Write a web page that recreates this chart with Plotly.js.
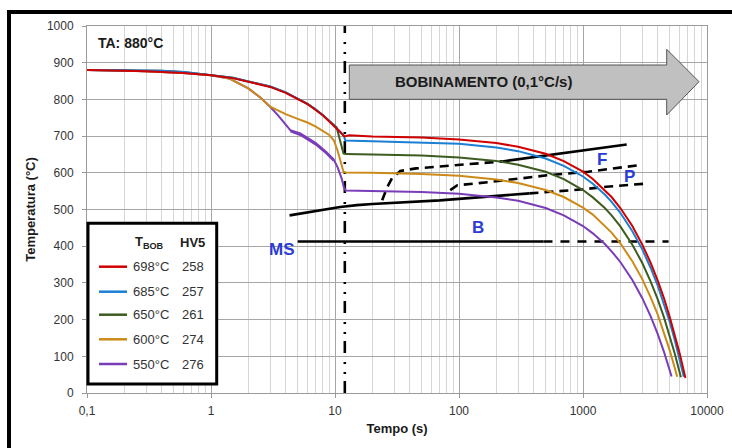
<!DOCTYPE html>
<html>
<head>
<meta charset="utf-8">
<script src="https://cdn.plot.ly/plotly-3.0.1.min.js"></script>
<style>html,body{margin:0;padding:0;background:#fff;}#chart{width:732px;height:448px;}</style>
</head>
<body>
<div id="chart"></div>
<script>
// ---- data ----
const seriesNames = ['698°C', '685°C', '650°C', '600°C', '550°C'];
const hv5 = [258, 257, 261, 274, 276];
const seriesColors = ['#d00000', '#1b7fd4', '#3d5c1f', '#cc8a18', '#7a3db8'];

const redT = [0.1,0.2,0.3,0.4,0.6,1,1.5,2,3,4,5,6,7,8,9,10,11,11.9,13,20,50,100,200,300,500,700,1000,1200,1500,1700,2000,2500,3000,3500,4000,4500,5000,5500,6000,6300,6700];
const redV = [880,879,877,875,872,866,858,848,834,818,802,787,771,756,740,726,711,699,702,699,696,691,681,671,652,632,603,583,553,534,504,455,405,356,307,258,208,159,110,80,41];

const blueT = [0.1,0.2,0.4,0.6,1,1.5,2,3,4,5,6,7,8,9,10,11,11.8,12.1,20,50,100,200,300,500,700,1000,1200,1500,1700,2000,2500,3000,3500,4000,4500,5000,5500,6000,6200,6500];
const blueV = [880,880,878,875,867,859,849,835,819,803,788,772,757,741,727,712,701,688,686,683,679,669,659,639,619,590,570,541,521,491,441,392,342,293,243,194,144,95,75,44];

const greenT = [0.1,0.2,0.4,0.6,1,1.5,2,3,4,5,6,7,8,9,10.3,11.7,12.2,20,50,100,200,300,500,700,1000,1200,1500,1700,2000,2500,3000,3500,4000,4500,5000,5500,6000,6150];
const greenV = [880,880,878,875,867,859,849,835,819,803,788,772,757,741,724,653,651,650,647,642,632,622,603,583,553,533,504,484,454,404,355,305,256,206,157,107,58,43];

const orangeT = [0.1,0.2,0.4,0.6,1,1.4,2,2.5,3,4,5,6,7,8,9,9.8,10.5,11.7,12.2,20,50,100,200,300,500,700,1000,1200,1500,1700,2000,2500,3000,3500,4000,4500,5000,5500,5750];
const orangeV = [880,879,875,872,866,857,830,805,780,760,747,737,726,714,703,688,660,603,601,600,597,592,582,572,553,534,505,486,456,437,408,359,311,262,214,165,117,68,44];

const purpleT = [0.1,0.2,0.4,0.6,1,1.4,2,2.5,3,3.5,4.36,5.25,6,7,7.6,8.5,9.75,10.5,11.3,11.8,12.2,20,50,100,200,300,500,700,1000,1200,1500,1700,2000,2500,3000,3500,4000,4500,5000,5180];
const purpleV = [880,879,875,872,866,857,830,805,780,755,716,707,695,681,671,657,637,615,585,560,552,551,548,543,533,524,504,484,455,435,406,386,357,308,259,210,161,112,63,45];
// second, slightly lower purple trace seen as a thickened line between 4.4 s and 10 s
const purple2T = [4.36,5.25,6,7,7.6,8.5,9.75];
const purple2V = [713,703,691,677,667,653,633];

// transformation lines
const fDashT = [24,26.3,28.8,33.6,45,90,170,224];
const fDashV = [525,560,585,605,612,621,628,631];
const fSolidT = [224,2250];
const fSolidV = [631,677];
const pDashT = [85,97,178,243,541,1100,2870];
const pDashV = [553,566,575,580,594,603,621];
const bSolidT = [4.3,6,8,11,15,20,70,200,370];
const bSolidV = [484,492,500,507,512,515,525,536,544];
const bDashT = [370,670,1000,1540,2100,3100];
const bDashV = [544,550,555,562,566,570];
const msSolidT = [5,480];
const msSolidV = [413,413];
const msDashT = [480,4900];
const msDashV = [413,413];
const coilStartT = [12,12];
const coilStartV = [0,1000];

const xTickVals = [0.1,1,10,100,1000,10000];
const xTickText = ['0,1','1','10','100','1000','10000'];

// ---- build ----
const L = 87, R = 25, T = 26, B = 55, W = 732, H = 448;
const pw = W - L - R, ph = H - T - B;
const px = v => (v - L) / pw;
const py = v => (H - B - v) / ph;
const lx = v => 1 + (v - 334.7) / 124.2;   // pixel -> log10(time) for data-anchored labels
const ty = v => (392.7 - v) / 0.3667;      // pixel -> temperature

const minorVals = [];
for (let e = -1; e < 4; e++) for (let d = 2; d <= 9; d++) minorVals.push(d * Math.pow(10, e));

const traces = [];
function line(x, y, color, width, dash) {
  traces.push({x: x, y: y, type: 'scatter', mode: 'lines', showlegend: false, hoverinfo: 'skip',
    line: {color: color, width: width, dash: dash || 'solid'}});
}
line(coilStartT, coilStartV, '#000', 2.6, '12px,7px,2px,8px,2px,9px');
line(bSolidT, bSolidV, '#000', 2.6);
line(bDashT, bDashV, '#000', 2.6, '9px,6px');
line(fDashT, fDashV, '#000', 2.6, '9px,6px');
line(fSolidT, fSolidV, '#000', 2.6);
line(pDashT, pDashV, '#000', 2.6, '9px,6px');
line(msSolidT, msSolidV, '#000', 2.6);
line(msDashT, msDashV, '#000', 2.6, '9px,8px');

const curves = [[redT, redV], [blueT, blueV], [greenT, greenV], [orangeT, orangeV], [purpleT, purpleV]];
line(purple2T, purple2V, seriesColors[4], 2);
for (let i = curves.length - 1; i >= 0; i--) line(curves[i][0], curves[i][1], seriesColors[i], 2);

const font = 'Arial, "Liberation Sans", sans-serif';
const shapes = [
  {type: 'rect', xref: 'paper', yref: 'paper', x0: px(9), x1: px(745), y0: py(460), y1: py(12),
   line: {color: '#000', width: 4}, layer: 'below'},
  {type: 'path', xref: 'paper', yref: 'paper',
   path: `M ${px(349.3)},${py(65)} L ${px(666.7)},${py(65)} L ${px(666.7)},${py(49.3)} L ${px(699)},${py(81.7)} L ${px(666.7)},${py(115)} L ${px(666.7)},${py(99.3)} L ${px(349.3)},${py(99.3)} Z`,
   fillcolor: '#c0c0c0', line: {color: '#555', width: 1}},
  {type: 'rect', xref: 'paper', yref: 'paper', x0: px(88), x1: px(216.7), y0: py(384), y1: py(223.3),
   fillcolor: '#fff', line: {color: '#000', width: 3}}
];
function ann(o) {
  return Object.assign({showarrow: false, xanchor: 'center', yanchor: 'middle'}, o);
}
const blue = {family: font, size: 17, color: '#2b3bd6'};
const annotations = [
  ann({xref: 'paper', yref: 'paper', x: px(130), y: py(43.5), text: '<b>TA: 880°C</b>',
   font: {family: font, size: 14, color: '#1a1a1a'}}),
  ann({xref: 'paper', yref: 'paper', x: px(483.5), y: py(81), text: '<b>BOBINAMENTO (0,1°C/s)</b>',
   font: {family: font, size: 15, color: '#1a1a1a'}}),
  ann({x: lx(602), y: ty(159), text: '<b>F</b>', font: blue}),
  ann({x: lx(630), y: ty(176.7), text: '<b>P</b>', font: blue}),
  ann({x: lx(478), y: ty(227), text: '<b>B</b>', font: blue}),
  ann({x: lx(282), y: ty(249), text: '<b>MS</b>', font: blue}),
  ann({xref: 'paper', yref: 'paper', x: px(149), y: py(242.5), text: '<b>T<sub>BOB</sub></b>',
   font: {family: font, size: 13, color: '#222'}}),
  ann({xref: 'paper', yref: 'paper', x: px(192.5), y: py(242.5), text: '<b>HV5</b>',
   font: {family: font, size: 13, color: '#222'}})
];
const rowY = [266.7, 291.7, 314.7, 339.3, 364];
seriesNames.forEach((n, i) => {
  shapes.push({type: 'line', xref: 'paper', yref: 'paper', x0: px(99), x1: px(127), y0: py(rowY[i]), y1: py(rowY[i]),
    line: {color: seriesColors[i], width: 2.5}});
  annotations.push(ann({xref: 'paper', yref: 'paper', x: px(131), y: py(rowY[i]), xanchor: 'left', text: n,
    font: {family: font, size: 13, color: '#333'}}));
  annotations.push(ann({xref: 'paper', yref: 'paper', x: px(192.5), y: py(rowY[i]), text: String(hv5[i]),
    font: {family: font, size: 13, color: '#333'}}));
});

const layout = {
  width: W, height: H,
  margin: {l: L, r: R, t: T, b: B, pad: 0},
  paper_bgcolor: '#fff', plot_bgcolor: '#fff',
  showlegend: false,
  font: {family: font, size: 12, color: '#333'},
  xaxis: {
    type: 'log', range: [-1, 4], tickmode: 'array', tickvals: xTickVals, ticktext: xTickText,
    showgrid: true, gridcolor: '#a6a6a6', gridwidth: 1,
    showline: true, linecolor: '#9a9a9a', linewidth: 1, mirror: true,
    ticks: 'outside', ticklen: 4, tickcolor: '#9a9a9a', ticklabelstandoff: 3,
    minor: {tickmode: 'array', tickvals: minorVals, showgrid: true, gridcolor: '#d6d6d6', gridwidth: 1, ticks: ''},
    zeroline: false,
    tickfont: {family: font, size: 12, color: '#333'},
    title: {text: '<b>Tempo (s)</b>', font: {family: font, size: 13, color: '#1a1a1a'}, standoff: 6}
  },
  yaxis: {
    range: [0, 1000], dtick: 100, tick0: 0,
    showgrid: true, gridcolor: '#a6a6a6', gridwidth: 1,
    showline: true, linecolor: '#9a9a9a', linewidth: 1, mirror: true,
    ticks: 'outside', ticklen: 4, tickcolor: '#9a9a9a', ticklabelstandoff: 6,
    zeroline: false,
    tickfont: {family: font, size: 12, color: '#333'},
    title: {text: '<b>Temperatura (°C)</b>', font: {family: font, size: 13, color: '#1a1a1a'}, standoff: 8}
  },
  shapes: shapes,
  annotations: annotations
};
Plotly.newPlot('chart', traces, layout, {displayModeBar: false, staticPlot: true});
</script>
</body>
</html>
